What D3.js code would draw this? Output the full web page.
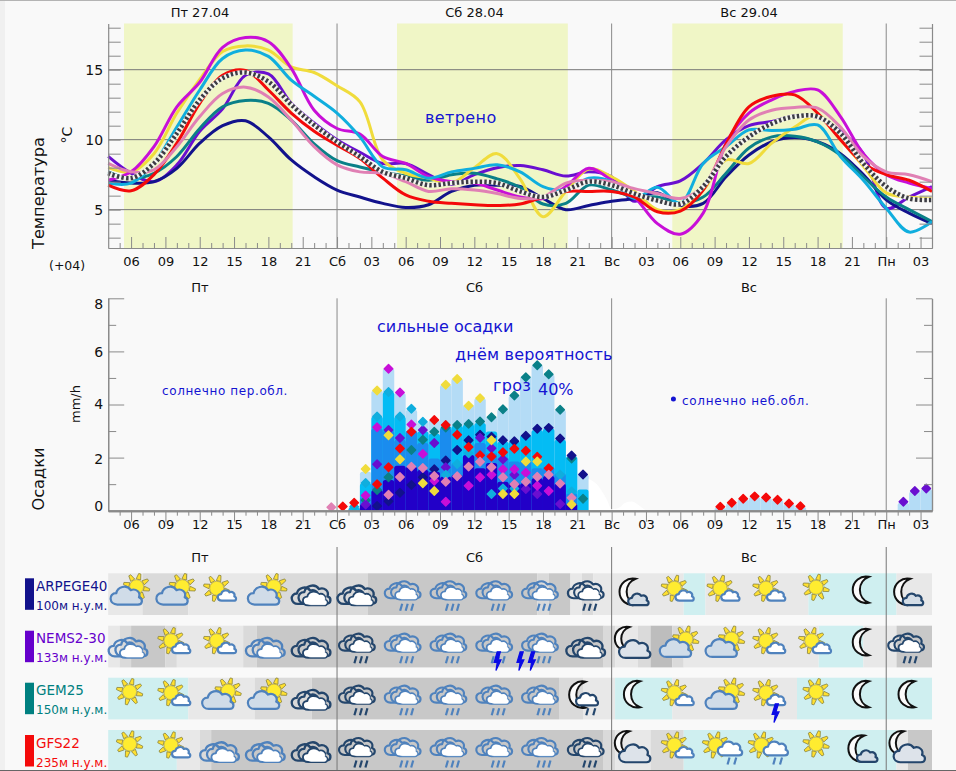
<!DOCTYPE html>
<html>
<head>
<meta charset="utf-8">
<script src="https://cdn.jsdelivr.net/npm/d3@7"></script>
<style>
html, body { margin: 0; padding: 0; background: #f9f9f9; }
text { font-family: "DejaVu Sans", sans-serif; }
</style>
</head>
<body>
<svg id="chart" width="956" height="771"></svg>
<script>
// hours counted from Friday 00:00
const tempHours = d3.range(4, 77, 2)

const tempNavy = [7.1,6.9,7,7.95,9.75,11,11.35,10.2,8.55,7.35,6.4,5.9,5.45,5.15,5.35,6.3,6.75,6.75,6.65,5.8,5,5.3,5.6,5.8,6.2,5.3,5.45,7.35,8.9,9.85,10.15,9.85,9,7.5,5.7,4.75,4]
const tempPurple = [8.8,7.6,7,8.2,10.6,12.2,14.6,14.7,12.6,11.2,10,9.1,8.3,8.3,7.5,6.8,7.5,8,8.15,7.85,7.4,7.7,7.35,5.6,6.65,7.05,8.3,10,11,11.3,11.7,11.6,10.6,9,5.1,5.9,6.65]
const tempTeal = [7.7,7.2,7.6,8.8,10.8,12.35,12.8,12.6,11.4,9.7,8.5,8.05,7.7,7.4,7.1,7.5,7.6,7.2,6.6,5.4,5.45,6.75,6.4,5.9,5.9,5.45,5.9,7.6,9.4,10.2,10.25,9.85,8.9,7.35,5.9,5,4.15]
const tempYellow = [8,7.7,9,11.9,14.3,16.3,16.7,16.4,15.2,14.8,13.85,12.7,8.55,7.6,7.25,6.9,8,9,7.2,4.5,6.3,7.9,7.35,6.3,5,5,6.4,8.55,8.3,9.75,10.9,11.75,10,8.1,6.2,5.9,5.8]
const tempMagenta = [7.1,7.7,9.5,12.35,14.1,16.6,17.3,17,15.1,12.1,10.8,10.4,8.8,8.3,7.35,7,6.9,6.4,5.9,5.8,6.65,7.95,7.1,5.9,4,3.25,4.75,9.75,11.9,12.85,13.45,13.55,11.65,9,7.5,6.9,6.5]
const tempCyan = [6.9,6.9,8.3,10.9,13.55,15.8,16.4,15.95,14.25,13.1,11.9,10.2,8.05,7.85,7.25,7.7,7.95,8.2,7.7,6.65,6.4,7.25,7,5.8,6.6,5.45,8.3,9.5,10.7,10.65,10.75,11.05,8.8,7.1,5.1,3.4,4.15]
const tempRed = [6.75,6.35,7.5,9.75,12.6,14.6,14.95,13.55,11.9,10.6,9.6,8.65,7.25,6.05,5.6,5.45,5.35,5.3,5.4,5.9,6.3,6.3,6.3,5.9,4.85,4.9,6.4,9.7,12.35,13.1,13.2,11.9,10,8.3,7.5,7.1,6.3]
const tempPink = [8.3,7.7,7.85,9.5,11.65,13.3,13.75,13.05,11.4,9.5,8.2,7.7,7.6,7,6.3,6.5,6.4,6.15,5.8,5.9,6.9,7.1,7,6.5,6.15,5.8,6.65,9.5,11.4,12.1,12.3,12.25,10.9,8.8,7.7,7.5,7]
const tempMean = [7.6,7.25,8.3,10.45,12.85,14.4,14.8,14.15,12.5,11.05,9.85,8.8,7.7,7.25,6.75,6.9,7,6.9,6.3,5.9,6.4,7,6.75,6.15,5.65,5.4,6.65,8.8,10.2,11.15,11.65,11.65,10.45,8.3,6.65,5.8,5.7]

const tempColors = { navy: '#12128c', purple: '#6a0fd0', teal: '#0a8088', yellow: '#f0dc3c', magenta: '#c80fd8', cyan: '#10aede', red: '#f40a0a', pink: '#e080b4' }

const dayBands = [[5.38, 20.12], [29.24, 44.17], [53.3, 68.2]]
const dayLines = [24, 48, 72]
const dayLabels = ['Пт 27.04', 'Сб 28.04', 'Вс 29.04']
const dayShort = ['Пт', 'Сб', 'Вс']
const dayCentres = [200, 474.5, 749]

// precipitation, one value per hour starting at the hour
const barHours = d3.range(25, 46)
const barLight = [.15,1.47,4.53,5.37,4.43,3.8,3.36,3.42,4.74,4.99,3.99,4.24,3.52,3.82,4.34,5.06,5.5,5.14,3.8,2.08,1.36]
const barCyan = [.12,1.03,3.55,4.47,3.55,3.02,2.98,2.9,3.15,3.2,3.25,3.3,2.98,2.6,2.62,2.85,3.04,3.1,2.67,2.04,.8]
const barBlue = [0,.5,3.1,3,2.67,3,2.55,1.97,3.1,1.8,2.1,2.55,2.16,2,1.85,1.9,1.6,1.66,1.4,.65,0]
const barIndigo = [0,.25,.78,1.16,1.69,1.66,1.53,1.47,1.28,1.35,2.1,1.6,1.8,1.09,1.03,1.03,1.22,1.31,1.02,.28,0]
const sundayHours = d3.range(57, 65)
const sundayLight = [.13,.28,.43,.52,.48,.4,.25,.15]
const mondayHours = [73, 74, 75]
const mondayLight = [.3,.72,.82]

// model points, hours 23.5 to 45.5, null where nothing shows
const pointHours = d3.range(23, 46).map(h => h + .5)
const rainPink = [.13,null,null,null,null,.6,1.27,1.66,1.61,1.31,1.09,1.3,1.66,1.84,1.64,1.26,1,1.09,1.28,1.35,1.02,.49,null]
const rainYellow = [null,null,null,1.57,4.53,2.84,1.94,null,1.03,.74,4.74,4.96,3.95,4.24,2.65,.63,.63,1.85,1.85,null,null,.23,null]
const rainCyan = [null,null,.15,1.04,3.55,4.47,3.55,3.84,3.35,null,1.35,1.76,2.16,null,.63,.84,.84,null,null,null,1.35,.72,null]
const rainTeal = [null,null,null,.39,.78,1.26,null,2.29,2.67,2.97,3.13,3.23,3.27,3.36,3.52,3.82,4.34,5.03,5.48,5.14,3.8,1.97,.45]
const rainNavy = [null,null,null,null,.18,.36,.68,.97,1.26,1.56,1.89,2.29,2.65,2.86,2.79,2.65,2.62,2.82,3.09,3.12,2.72,2.08,1.36]
const rainRed = [null,.16,.3,null,1,1.64,2.34,2.97,null,3.42,3.23,2.86,2.4,2.09,2.04,2.2,2.33,2.26,2.03,1.6,null,null,null]
const rainPurple = [null,null,null,.23,1.75,3.04,2.74,null,3.04,2.55,1.64,null,null,2.75,2.35,1.94,1.35,.82,.63,null,.25,null,null]
const rainMagenta = [null,null,null,.57,3.14,5.35,4.45,3.25,2.14,1.13,.34,null,.94,1.26,1.35,1.56,1.56,1.43,.94,.74,null,null,null]
const redSunday = [.15,.3,.45,.54,.5,.41,.27,.17]
const purpleMonday = [.34,.74,.84]

// white smudge over the precipitation panel
const smudgeHours = [46, 46.4, 46.8, 47.2, 47.6, 48, 48.6, 49.2, 49.8, 50.4, 51]
const smudgeValues = [1.2, 1.1, .95, .7, .4, .05, .1, .3, .35, .2, 0]

const rowNames = ['ARPEGE40', 'NEMS2-30', 'GEM25', 'GFS22']
const rowHeights = ['100м н.у.м.', '133м н.у.м.', '150м н.у.м.', '235м н.у.м.']
const rowColors = ['#12128c', '#6600cc', '#008080', '#f40a0a']
const iconHours = d3.range(6, 75, 4)
const rowIcons = [
    ['cs','cs','sc','cs','dark','dark','rain','rain','rain','rain','darkrain','moonsmall','sc','sc','sc','sun','moon','moonsmall'],
    ['cloud','sc','sc','cloud','dark','darkrain','rain','rain','rain','rain','dark','moonbig','cs','cs','sc','sc','moon','darkrain'],
    ['sun','sc','cs','cs','dark','darkrain','rain','rain','rain','rain','moonrain','moon','sc','cs','sc','sun','moon','moon'],
    ['sun','sc','cloud','cloud','dark','darkrain','rain','rain','rain','rain','darkrain','moonbig','sc','sunrain','sunrain','sun','moonsmall','moonbig']
]
const rowBolts = [[], [38, 40, 41], [62.3], []]
// cloud cover strips: hour where a strip starts, then its shade
const rowStripHours = [
    [4,7,11,19,26.7,41.5,42.5,44.4,45.4,46.4,54.3,56.2,65.2,72.9],
    [4,5,6,9,10,15.8,17,47.3,48.3,50.3,51.4,53.3,54.3,66.1,70,72.9],
    [4,11,16.8,21.8,43.4,45.5,48.3,53.3,64.2],
    [4,10,12,13,47.3,48.3,51.4,54.3,72.9,73.9]
]
const rowStripShades = [
    [1,2,1,2,3,2,3,1,2,1,0,1,0,1],
    [1,2,3,2,1,2,3,2,1,2,4,2,1,0,1,3],
    [0,1,2,3,2,1,0,1,0],
    [0,1,2,3,2,1,2,0,1,3]
]
const shadeColors = ['#cfeff0', '#e8e8e8', '#dadada', '#c8c8c8', '#bdbdbd']

const notes = [
    { text: 'ветрено', x: 425, y: 123, size: 16, spacing: .4 },
    { text: 'сильные осадки', x: 377, y: 332, size: 16, spacing: 0 },
    { text: 'днём вероятность', x: 455, y: 360, size: 16, spacing: .2 },
    { text: 'гроз', x: 493, y: 391, size: 16, spacing: .3 },
    { text: '40%', x: 538, y: 395, size: 16, spacing: 0 },
    { text: 'солнечно пер.обл.', x: 162, y: 395, size: 12, spacing: .6 },
    { text: 'солнечно неб.обл.', x: 682, y: 405, size: 12, spacing: .7 }
]

const gray = '#8a8a8a'
const svg = d3.select('#chart')

const x = d3.scaleLinear().domain([4, 76]).range([108.2, 932])
const yTemp = d3.scaleLinear().domain([2.26, 18.3]).range([248, 23.5])
const yRain = d3.scaleLinear().domain([0, 8]).range([510.7, 298.3])

// page edges
svg.append('rect').attr('width', 5).attr('height', 771).attr('fill', '#f0f0f0')
svg.append('rect').attr('width', 956).attr('height', 1).attr('fill', '#b4b4b4')
svg.append('rect').attr('y', 770).attr('width', 956).attr('height', 1).attr('fill', '#666')

function hourLabel(h) {
    if (h % 24 === 0) return ['Сб', 'Вс', 'Пн'][h / 24 - 1]
    return d3.format('02')(h % 24)
}
const majorHours = d3.range(6, 76, 3)
const minorHours = d3.range(5, 76).filter(h => h % 3 !== 0)

function styleAxis(g) {
    g.select('.domain').attr('stroke', gray).attr('stroke-width', 1.2)
    g.selectAll('line').attr('stroke', gray)
    g.selectAll('text').attr('fill', '#111').attr('font-size', 13).attr('font-family', '"DejaVu Sans", sans-serif')
}

/* Temperature panel */
const temp = svg.append('g')

temp.selectAll('.band').data(dayBands).enter().append('rect')
    .attr('class', 'band')
    .attr('x', d => x(d[0]))
    .attr('width', d => x(d[1]) - x(d[0]))
    .attr('y', yTemp(18.3))
    .attr('height', yTemp(2.26) - yTemp(18.3))
    .attr('fill', '#f0f6c6')

temp.selectAll('.grid').data([15, 10, 5]).enter().append('line')
    .attr('x1', x(4)).attr('x2', x(76))
    .attr('y1', d => yTemp(d)).attr('y2', d => yTemp(d))
    .attr('stroke', '#777')

temp.selectAll('.dayline').data(dayLines).enter().append('line')
    .attr('x1', d => x(d)).attr('x2', d => x(d))
    .attr('y1', yTemp(18.3)).attr('y2', yTemp(2.26))
    .attr('stroke', gray)

const tempLine = d3.line()
    .x((d, i) => x(tempHours[i]))
    .y(d => yTemp(d))
    .curve(d3.curveCatmullRom.alpha(.5))

const tempSeries = [
    [tempPurple, tempColors.purple],
    [tempNavy, tempColors.navy],
    [tempTeal, tempColors.teal],
    [tempYellow, tempColors.yellow],
    [tempMagenta, tempColors.magenta],
    [tempCyan, tempColors.cyan],
    [tempRed, tempColors.red],
    [tempPink, tempColors.pink]
]
temp.selectAll('.series').data(tempSeries).enter().append('path')
    .attr('d', d => tempLine(d[0]))
    .attr('fill', 'none')
    .attr('stroke', d => d[1])
    .attr('stroke-width', 3)
    .attr('stroke-linejoin', 'round')

temp.append('path').attr('d', tempLine(tempMean))
    .attr('fill', 'none').attr('stroke', '#f4f4f0').attr('stroke-width', 4.5)
temp.append('path').attr('d', tempLine(tempMean))
    .attr('fill', 'none').attr('stroke', '#3c3c44').attr('stroke-width', 4.5)
    .attr('stroke-dasharray', '2.4,2.2')

temp.append('g').attr('transform', `translate(0,${yTemp(2.26)})`)
    .call(d3.axisBottom(x).tickValues(majorHours).tickFormat(hourLabel).tickSizeInner(-11).tickSizeOuter(0).tickPadding(9))
    .call(styleAxis)
temp.append('g').attr('transform', `translate(0,${yTemp(2.26)})`)
    .call(d3.axisBottom(x).tickValues(minorHours).tickFormat('').tickSizeInner(-5).tickSizeOuter(0))
    .call(styleAxis)

temp.append('g').attr('transform', `translate(${x(4)},0)`)
    .call(d3.axisLeft(yTemp).tickValues(d3.range(3, 19)).tickFormat('').tickSizeInner(-12.5).tickSizeOuter(0))
    .call(styleAxis)
temp.append('g').attr('transform', `translate(${x(4)},0)`)
    .call(d3.axisLeft(yTemp).tickValues([15, 10, 5]).tickFormat(d3.format('d')).tickSize(0).tickPadding(5))
    .call(styleAxis)
    .call(g => g.select('.domain').remove())
    .call(g => g.selectAll('text').attr('font-size', 14))
temp.append('g').attr('transform', `translate(${x(76)},0)`)
    .call(d3.axisRight(yTemp).tickValues(d3.range(3, 19)).tickFormat('').tickSizeInner(-12.5).tickSizeOuter(0))
    .call(styleAxis)

temp.selectAll('.daylabel').data(dayLabels).enter().append('text')
    .attr('x', (d, i) => dayCentres[i]).attr('y', 17)
    .attr('text-anchor', 'middle').attr('font-size', 13).attr('fill', '#111')
    .text(d => d)

/* Precipitation panel */
const rain = svg.append('g')

svg.append('defs').append('clipPath').attr('id', 'rainclip').append('rect')
    .attr('x', x(4)).attr('y', yRain(8)).attr('width', x(76) - x(4)).attr('height', yRain(0) - yRain(8))

rain.selectAll('.dayline').data(dayLines).enter().append('line')
    .attr('x1', d => x(d)).attr('x2', d => x(d))
    .attr('y1', yRain(8)).attr('y2', yRain(0))
    .attr('stroke', gray)

const barLayers = [
    [barHours, barLight, '#b4dcf6'],
    [sundayHours, sundayLight, '#b4dcf6'],
    [mondayHours, mondayLight, '#b4dcf6'],
    [barHours, barCyan, '#04bcf4'],
    [barHours, barBlue, '#1a8cee'],
    [barHours, barIndigo, '#2200c8']
]
const bars = rain.append('g').attr('clip-path', 'url(#rainclip)')
barLayers.forEach(layer => {
    bars.append('g').selectAll('rect').data(layer[1]).enter().append('rect')
        .attr('x', (d, i) => x(layer[0][i]))
        .attr('width', (d, i) => x(layer[0][i] + 1) - x(layer[0][i]))
        .attr('y', d => yRain(d))
        .attr('height', d => yRain(0) - yRain(d) + 6)
        .attr('rx', d => d > 0 ? 2.5 : 0)
        .attr('fill', layer[2])
})

const smudgeArea = d3.area()
    .x((d, i) => x(smudgeHours[i]))
    .y0(yRain(0))
    .y1(d => yRain(d))
    .curve(d3.curveMonotoneX)
rain.append('path').attr('d', smudgeArea(smudgeValues)).attr('fill', '#ffffff')

const diamond = d3.symbol().type(d3.symbolSquare).size(36)
const pointLayers = [
    [pointHours, rainTeal, tempColors.teal],
    [pointHours, rainNavy, tempColors.navy],
    [pointHours, rainPurple, tempColors.purple],
    [pointHours, rainCyan, tempColors.cyan],
    [pointHours, rainMagenta, tempColors.magenta],
    [pointHours, rainRed, tempColors.red],
    [pointHours, rainPink, tempColors.pink],
    [pointHours, rainYellow, tempColors.yellow],
    [sundayHours.map(h => h + .5), redSunday, tempColors.red],
    [mondayHours.map(h => h + .5), purpleMonday, tempColors.purple]
]
pointLayers.forEach(layer => {
    const points = layer[1].map((v, i) => [layer[0][i], v]).filter(p => p[1] !== null)
    rain.append('g').selectAll('path').data(points).enter().append('path')
        .attr('d', diamond)
        .attr('transform', d => `translate(${x(d[0])},${yRain(d[1])}) rotate(45)`)
        .attr('fill', layer[2])
        .attr('stroke', layer[2]).attr('stroke-width', 1.4).attr('stroke-linejoin', 'round')
})

rain.append('g').attr('transform', `translate(0,${yRain(0)})`)
    .call(d3.axisBottom(x).tickValues(majorHours).tickFormat(hourLabel).tickSizeInner(11).tickSizeOuter(0).tickPadding(-1.5))
    .call(styleAxis)
    .call(g => g.select('.domain').attr('stroke-width', 2))
rain.append('g').attr('transform', `translate(0,${yRain(0)})`)
    .call(d3.axisBottom(x).tickValues(minorHours).tickFormat('').tickSizeInner(5).tickSizeOuter(0))
    .call(styleAxis)
    .call(g => g.select('.domain').attr('stroke-width', 2))

// end labels sit inside the axis
const rainLabelShift = { 8: 5.5, 6: 0.5, 4: 0, 2: 1.5, 0: -5 }
rain.append('g').attr('transform', `translate(${x(4)},0)`)
    .call(d3.axisLeft(yRain).tickValues([0, 2, 4, 6, 8]).tickFormat(d3.format('d')).tickSizeInner(-16).tickSizeOuter(0).tickPadding(5))
    .call(styleAxis)
    .call(g => g.selectAll('text').attr('font-size', 14).attr('transform', d => `translate(0,${rainLabelShift[d]})`))
rain.append('g').attr('transform', `translate(${x(4)},0)`)
    .call(d3.axisLeft(yRain).tickValues([1, 3, 5, 7]).tickFormat('').tickSizeInner(-8).tickSizeOuter(0))
    .call(styleAxis)
rain.append('g').attr('transform', `translate(${x(76)},0)`)
    .call(d3.axisRight(yRain).tickValues([0, 2, 4, 6, 8]).tickFormat('').tickSizeInner(-16).tickSizeOuter(0))
    .call(styleAxis)
rain.append('g').attr('transform', `translate(${x(76)},0)`)
    .call(d3.axisRight(yRain).tickValues([1, 3, 5, 7]).tickFormat('').tickSizeInner(-8).tickSizeOuter(0))
    .call(styleAxis)

rain.selectAll('.daylabel').data(dayShort).enter().append('text')
    .attr('x', (d, i) => dayCentres[i]).attr('y', 292)
    .attr('text-anchor', 'middle').attr('font-size', 13).attr('fill', '#111')
    .text(d => d)

rain.append('circle').attr('cx', x(53.4)).attr('cy', 399).attr('r', 2.5).attr('fill', '#1414d2')

/* Axis titles */
function sideLabel(text, cx, cy, size) {
    svg.append('text')
        .attr('transform', `translate(${cx},${cy}) rotate(-90)`)
        .attr('text-anchor', 'middle')
        .attr('font-size', size)
        .attr('fill', '#111')
        .text(text)
}
sideLabel('Температура', 44, 193, 16.2)
sideLabel('°C', 72, 135, 14)
sideLabel('mm/h', 80, 404, 13)
sideLabel('Осадки', 44, 479, 16.2)
svg.append('text').attr('x', 49).attr('y', 270).attr('font-size', 12.5).attr('fill', '#111').text('(+04)')

svg.append('g').selectAll('text').data(notes).enter().append('text')
    .attr('x', d => d.x).attr('y', d => d.y)
    .attr('font-size', d => d.size)
    .attr('letter-spacing', d => d.spacing)
    .attr('fill', '#1414d2')
    .text(d => d.text)

/* Forecast rows */
const rowTops = [573.3, 625.7, 677.7, 730]
const rowHeight = 41.7
const rowsG = svg.append('g')

rowNames.forEach((name, r) => {
    const top = rowTops[r]
    const row = rowsG.append('g')
    const stops = rowStripHours[r]
    row.selectAll('rect').data(stops).enter().append('rect')
        .attr('x', d => x(d))
        .attr('width', (d, i) => x(i + 1 < stops.length ? stops[i + 1] : 76) - x(d))
        .attr('y', top)
        .attr('height', Math.min(rowHeight, 770 - top))
        .attr('fill', (d, i) => shadeColors[rowStripShades[r][i]])
    row.append('rect').attr('x', 25).attr('y', top + 5).attr('width', 9).attr('height', 31.5).attr('fill', rowColors[r])
    row.append('text').attr('x', 36).attr('y', top + 17.5).attr('font-size', 13.5).attr('fill', rowColors[r]).text(name)
    row.append('text').attr('x', 36).attr('y', top + 36.5).attr('font-size', 12).attr('fill', rowColors[r]).text(rowHeights[r])
})

rowsG.selectAll('.dayline').data(dayLines).enter().append('line')
    .attr('x1', d => x(d)).attr('x2', d => x(d))
    .attr('y1', 547).attr('y2', 770)
    .attr('stroke', '#777')

rowsG.selectAll('.daylabel').data(dayShort).enter().append('text')
    .attr('x', (d, i) => dayCentres[i]).attr('y', 562)
    .attr('text-anchor', 'middle').attr('font-size', 13).attr('fill', '#111')
    .text(d => d)

/* Weather glyphs, drawn around the icon origin */
const cloudPath = 'M-9,8 C-17,8 -18,-3 -10,-3 C-9,-9 0,-12 4,-6 C9,-8 14,-4 12,1 C16,2 16,8 11,8 Z'
const moonPath = 'M7,-13 A13.3,13.3 0 1 0 7,13 A13.9,13.9 0 0 1 7,-13 Z'
const boltPath = 'M0,-7.5 L-2.5,1 L0,1 L-1,7.5 L3,-1 L0.5,-1 L2.5,-7.5 Z'
const lightBlue = '#4f82bd'
const darkBlue = '#24466c'

function drawSun(g, cx, cy) {
    const s = g.append('g').attr('transform', `translate(${cx},${cy})`)
    d3.range(8).forEach(i => {
        s.append('path')
            .attr('d', 'M-2.3,-7.5 L-1.1,-13.3 L1.1,-13.3 L2.3,-7.5 Z')
            .attr('transform', `rotate(${i * 45 + 14})`)
            .attr('fill', '#ffe030').attr('stroke', '#85803a').attr('stroke-width', .7)
    })
    s.append('circle').attr('r', 7).attr('fill', '#ffec30').attr('stroke', '#b0a040').attr('stroke-width', .7)
}
function drawCloud(g, cx, cy, scale, fill, stroke, width) {
    g.append('path')
        .attr('d', cloudPath)
        .attr('transform', `translate(${cx},${cy}) scale(${scale})`)
        .attr('fill', fill).attr('stroke', stroke)
        .attr('stroke-width', width / scale).attr('stroke-linejoin', 'round')
}
function drawDoubleCloud(g, stroke, dx, dy, s) {
    const d = g.append('g').attr('transform', `translate(${dx},${dy}) scale(${s})`)
    drawCloud(d, -5, 1, .9, 'none', stroke, 2.2)
    drawCloud(d, 3, 0, 1, 'none', stroke, 2.2)
    drawCloud(d, 3.5, 3.5, .76, '#ffffff', stroke, 1.8)
    drawCloud(d, 5, 4, .62, '#ffffff', '#ffffff', .5)
}
function drawStrokes(g, cx, cy, n, gap, stroke) {
    d3.range(n).forEach(i => {
        g.append('line')
            .attr('x1', cx + i * gap - 1).attr('x2', cx + i * gap + 1)
            .attr('y1', cy + 3.5).attr('y2', cy - 3.5)
            .attr('stroke', stroke).attr('stroke-width', 2.2)
    })
}
function drawMoon(g, cx, cy, scale) {
    g.append('path')
        .attr('d', moonPath)
        .attr('transform', `translate(${cx},${cy}) scale(${scale})`)
        .attr('fill', '#fbfbfb').attr('stroke', '#111').attr('stroke-width', 2 / scale)
}
const iconDraw = {
    sun: g => drawSun(g, 0, -3),
    sc: g => { drawSun(g, -4.4, -2); drawCloud(g, 6, 5.6, .6, '#ffffff', lightBlue, 2.2) },
    cs: g => { drawSun(g, 7, -3.6); drawCloud(g, -3, 6, 1.03, '#d0dce8', lightBlue, 2.2) },
    cloud: g => drawDoubleCloud(g, lightBlue, -1, 5, 1.05),
    dark: g => drawDoubleCloud(g, darkBlue, -1, 5, 1.05),
    rain: g => { drawDoubleCloud(g, lightBlue, -1, 0, .97); drawStrokes(g, -3, 17, 3, 5.5, lightBlue) },
    darkrain: g => { drawDoubleCloud(g, darkBlue, -1, 0, .97); drawStrokes(g, -3, 17, 3, 5.5, darkBlue) },
    sunrain: g => { drawSun(g, -9, -2); drawCloud(g, 5.7, 2, .8, '#ffffff', lightBlue, 2.2); drawStrokes(g, 4, 14, 2, 6.7, lightBlue) },
    moon: g => drawMoon(g, 0, -.5, 1),
    moonsmall: g => { drawMoon(g, -4.4, 1.5, 1); drawCloud(g, 5.6, 9.5, .67, '#d4dde6', darkBlue, 2.2) },
    moonbig: g => { drawMoon(g, -10, -4, .9); drawCloud(g, 2, 7, 1.03, '#dde3ea', darkBlue, 2.2) },
    moonrain: g => { drawMoon(g, -9, 0, 1); drawCloud(g, 0, 5, .72, '#ffffff', darkBlue, 2.2); drawStrokes(g, 0, 17, 2, 7, darkBlue) }
}

rowIcons.forEach((icons, r) => {
    rowsG.append('g').selectAll('g').data(icons).enter().append('g')
        .attr('transform', (d, i) => `translate(${x(iconHours[i]) - 1.5},${rowTops[r] + 17})`)
        .each(function (d) { iconDraw[d](d3.select(this)) })
    rowsG.append('g').selectAll('path').data(rowBolts[r]).enter().append('path')
        .attr('d', boltPath)
        .attr('transform', d => `translate(${x(d)},${rowTops[r] + 35.5}) scale(1.25)`)
        .attr('fill', '#0a0ae6').attr('stroke', '#0a0ae6').attr('stroke-width', 1)
})
</script>
</body>
</html>
